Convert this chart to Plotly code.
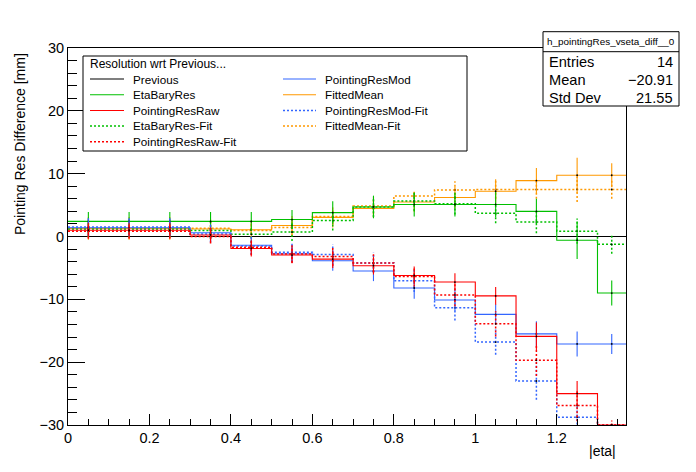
import plotly.graph_objects as go

# canvas and plot frame, in pixels of the photographed page
# (the page body has an 8px margin, so the figure is shifted by OFF)
W, H = 696, 472
OFF = 8
L, R, T, B = 68, 626, 48, 425

FONT = "Liberation Sans, Arial, Helvetica, sans-serif"

GREEN = "#00c000"
RED = "#ff0000"
BLUE = "#3366ff"
ORANGE = "#ff9900"
DOT = "2px,2px"

# |eta| bin edges (14 bins)
edges = [0.0, 0.1, 0.2, 0.3, 0.4, 0.5, 0.6, 0.7, 0.8, 0.9, 1.0, 1.1, 1.2, 1.3, 1.37]

previous = [0, 0, 0, 0, 0, 0, 0, 0, 0, 0, 0, 0, 0, 0]

eta_bary_res = [2.4, 2.4, 2.4, 2.4, 2.4, 2.7, 3.8, 4.7, 5.1, 5.1, 5.1, 4.0, -0.6, -9.0]
eta_bary_res_err = [1.5, 1.5, 1.5, 1.5, 1.5, 1.5, 1.8, 1.8, 1.9, 1.9, 2.0, 2.0, 3.0, 2.0]

eta_bary_res_fit = [1.2, 1.2, 1.2, 0.95, 0.35, 0.7, 2.55, 4.7, 5.65, 5.2, 3.7, 2.3, 0.85, -1.25]
eta_bary_res_fit_err = [1.3, 1.3, 1.3, 1.3, 1.3, 1.4, 1.6, 1.6, 1.6, 1.7, 1.6, 1.8, 2.0, 1.5]

pointing_raw = [1.0, 1.0, 1.0, 0.25, -1.9, -2.95, -3.6, -4.65, -6.2, -7.25, -9.45, -15.9, -25.0, -30.0]
pointing_raw_err = [1.2, 1.2, 1.2, 1.2, 1.3, 1.3, 1.4, 1.4, 1.4, 1.4, 1.4, 2.2, 2.0, 0.0]

pointing_raw_fit = [0.85, 0.85, 0.85, 0.0, -1.7, -2.8, -3.2, -4.2, -6.35, -9.3, -13.9, -19.7, -26.9, -30.0]
pointing_raw_fit_err = [1.2, 1.2, 1.2, 1.1, 1.3, 1.4, 1.5, 1.5, 1.6, 1.8, 2.0, 2.5, 2.5, 0.7]

pointing_mod = [1.4, 1.4, 1.4, 0.6, -1.4, -2.75, -3.85, -5.5, -8.2, -10.1, -12.4, -15.5, -17.1, -17.1]
pointing_mod_err = [1.4, 1.4, 1.4, 1.3, 1.4, 1.4, 1.6, 1.6, 1.7, 1.8, 1.6, 2.0, 2.0, 1.6]

pointing_mod_fit = [1.5, 1.5, 1.5, 0.4, -1.5, -2.5, -2.85, -4.2, -7.05, -11.35, -16.8, -23.0, -28.75, -30.0]
pointing_mod_fit_err = [1.4, 1.4, 1.4, 1.3, 1.4, 1.5, 1.6, 1.6, 1.8, 2.0, 2.0, 3.0, 1.8, 0.0]

fitted_mean = [1.3, 1.3, 1.3, 1.2, 1.07, 1.76, 3.05, 4.45, 5.5, 6.2, 7.2, 8.9, 9.75, 9.75]
fitted_mean_err = [1.8, 1.8, 1.8, 1.6, 1.5, 1.5, 1.6, 1.5, 1.6, 1.7, 1.9, 2.0, 2.8, 1.9]

fitted_mean_fit = [1.25, 1.25, 1.25, 1.3, 0.95, 1.45, 3.2, 4.85, 6.45, 7.4, 7.5, 7.5, 7.5, 7.5]
fitted_mean_fit_err = [1.3, 1.3, 1.3, 1.2, 1.2, 1.3, 1.3, 1.3, 0.9, 1.4, 1.5, 1.5, 2.0, 1.5]

x_ticks = [0, 0.2, 0.4, 0.6, 0.8, 1.0, 1.2]
x_tick_text = ["0", "0.2", "0.4", "0.6", "0.8", "1", "1.2"]
y_ticks = [-30, -20, -10, 0, 10, 20, 30]

stats_title = "h_pointingRes_vseta_diff__0"
stats_rows = [("Entries", "14"), ("Mean", "\u221220.91"), ("Std Dev", "21.55")]

# name, values, errors, colour, dash, legend column, legend row
series = [
    ("Previous", previous, None, "black", "solid", 0, 0),
    ("FittedMean-Fit", fitted_mean_fit, fitted_mean_fit_err, ORANGE, DOT, 1, 3),
    ("FittedMean", fitted_mean, fitted_mean_err, ORANGE, "solid", 1, 1),
    ("EtaBaryRes-Fit", eta_bary_res_fit, eta_bary_res_fit_err, GREEN, DOT, 0, 3),
    ("EtaBaryRes", eta_bary_res, eta_bary_res_err, GREEN, "solid", 0, 1),
    ("PointingResMod-Fit", pointing_mod_fit, pointing_mod_fit_err, BLUE, DOT, 1, 2),
    ("PointingResMod", pointing_mod, pointing_mod_err, BLUE, "solid", 1, 0),
    ("PointingResRaw-Fit", pointing_raw_fit, pointing_raw_fit_err, RED, DOT, 0, 4),
    ("PointingResRaw", pointing_raw, pointing_raw_err, RED, "solid", 0, 2),
]


def px_x(p):
    return (p - L) / (R - L)


def px_y(p):
    return (B - p) / (B - T)


centers = [(a + b) / 2 for a, b in zip(edges[:-1], edges[1:])]

fig = go.Figure()

for name, vals, errs, color, dash, _, _ in series:
    width = 1.5 if dash == DOT else 1.1
    fig.add_trace(
        go.Scatter(
            x=edges,
            y=vals + [vals[-1]],
            mode="lines",
            line={"color": color, "width": width, "dash": dash, "shape": "hv"},
            name=name,
            hoverinfo="skip",
        )
    )
    if errs is None:
        continue
    ex, ey = [], []
    for c, v, e in zip(centers, vals, errs):
        if e > 0:
            ex += [c, c, None]
            ey += [v - e, v + e, None]
    fig.add_trace(
        go.Scatter(
            x=ex,
            y=ey,
            mode="lines",
            line={"color": color, "width": width, "dash": dash},
            hoverinfo="skip",
        )
    )
    fig.add_trace(
        go.Scatter(
            x=centers,
            y=vals,
            mode="markers",
            marker={"color": "black", "size": 1.8},
            hoverinfo="skip",
        )
    )

shapes = []
annotations = []

# legend box (drawn by hand to get the two-column ROOT layout)
shapes.append(dict(type="rect", xref="paper", yref="paper",
                   x0=px_x(83), x1=px_x(467), y0=px_y(151), y1=px_y(56),
                   line={"color": "black", "width": 1}, fillcolor="white", layer="above"))
annotations.append(dict(xref="paper", yref="paper", x=px_x(88), y=px_y(64),
                        text="Resolution wrt Previous...", showarrow=False,
                        xanchor="left", yanchor="middle",
                        font={"size": 12, "color": "black", "family": FONT}))
row_y = [79, 94.7, 110.5, 126, 141.7]
col_x = [(90, 124, 131), (283, 316, 323)]
for name, _, _, color, dash, col, row in series:
    s0, s1, tx = col_x[col]
    yy = px_y(row_y[row])
    shapes.append(dict(type="line", xref="paper", yref="paper",
                       x0=px_x(s0), x1=px_x(s1), y0=yy, y1=yy, layer="above",
                       line={"color": color, "width": 1.5 if dash == DOT else 1.1, "dash": dash}))
    annotations.append(dict(xref="paper", yref="paper", x=px_x(tx), y=yy,
                            text=name, showarrow=False, xanchor="left", yanchor="middle",
                            font={"size": 11.7, "color": "black", "family": FONT}))

# stats box
sx0, sx1, sy0, sy1, sy2 = 543, 679, 31.7, 51.7, 106
shapes.append(dict(type="rect", xref="paper", yref="paper",
                   x0=px_x(sx0), x1=px_x(sx1), y0=px_y(sy2), y1=px_y(sy0),
                   line={"color": "black", "width": 1}, fillcolor="white", layer="above"))
shapes.append(dict(type="line", xref="paper", yref="paper",
                   x0=px_x(sx0), x1=px_x(sx1), y0=px_y(sy1), y1=px_y(sy1),
                   line={"color": "black", "width": 1}, layer="above"))
annotations.append(dict(xref="paper", yref="paper", x=px_x((sx0 + sx1) / 2), y=px_y(41.7),
                        text=stats_title, showarrow=False, xanchor="center", yanchor="middle",
                        font={"size": 9.9, "color": "black", "family": FONT}))
for (label, value), yy in zip(stats_rows, [62, 80, 97.5]):
    annotations.append(dict(xref="paper", yref="paper", x=px_x(547), y=px_y(yy),
                            text=label, showarrow=False, xanchor="left", yanchor="middle",
                            font={"size": 14.6, "color": "black", "family": FONT}))
    annotations.append(dict(xref="paper", yref="paper", x=px_x(675), y=px_y(yy),
                            text=value, showarrow=False, xanchor="right", yanchor="middle",
                            font={"size": 14.6, "color": "black", "family": FONT}))

# axis titles
annotations.append(dict(xref="paper", yref="paper", x=px_x(618), y=px_y(451),
                        text="|eta|", showarrow=False, xanchor="right", yanchor="middle",
                        font={"size": 14, "color": "black", "family": FONT}))
annotations.append(dict(xref="paper", yref="paper", x=px_x(20), y=px_y(144),
                        text="Pointing Res Difference [mm]", showarrow=False, textangle=-90,
                        xanchor="center", yanchor="middle",
                        font={"size": 14, "color": "black", "family": FONT}))

fig.update_layout(
    width=W,
    height=H,
    margin={"l": L - OFF, "r": W - R + OFF, "t": T - OFF, "b": H - B + OFF, "pad": 0},
    paper_bgcolor="white",
    plot_bgcolor="white",
    showlegend=False,
    font={"family": FONT, "size": 14, "color": "black"},
    shapes=shapes,
    annotations=annotations,
    xaxis={
        "range": [0, 1.37],
        "tickvals": x_ticks,
        "ticktext": x_tick_text,
        "ticks": "inside",
        "ticklen": 11,
        "tickcolor": "black",
        "minor": {"dtick": 0.05, "ticks": "inside", "ticklen": 6, "tickcolor": "black"},
        "showgrid": False,
        "zeroline": False,
        "showline": True,
        "linecolor": "black",
        "linewidth": 1,
        "mirror": True,
        "automargin": False,
        "tickfont": {"size": 14.5},
    },
    yaxis={
        "range": [-30, 30],
        "tickvals": y_ticks,
        "ticks": "inside",
        "ticklen": 17,
        "tickcolor": "black",
        "minor": {"dtick": 2, "ticks": "inside", "ticklen": 9, "tickcolor": "black"},
        "showgrid": False,
        "zeroline": False,
        "showline": True,
        "linecolor": "black",
        "linewidth": 1,
        "mirror": True,
        "automargin": False,
        "tickfont": {"size": 14.5},
    },
)

fig.write_html("out.html")
